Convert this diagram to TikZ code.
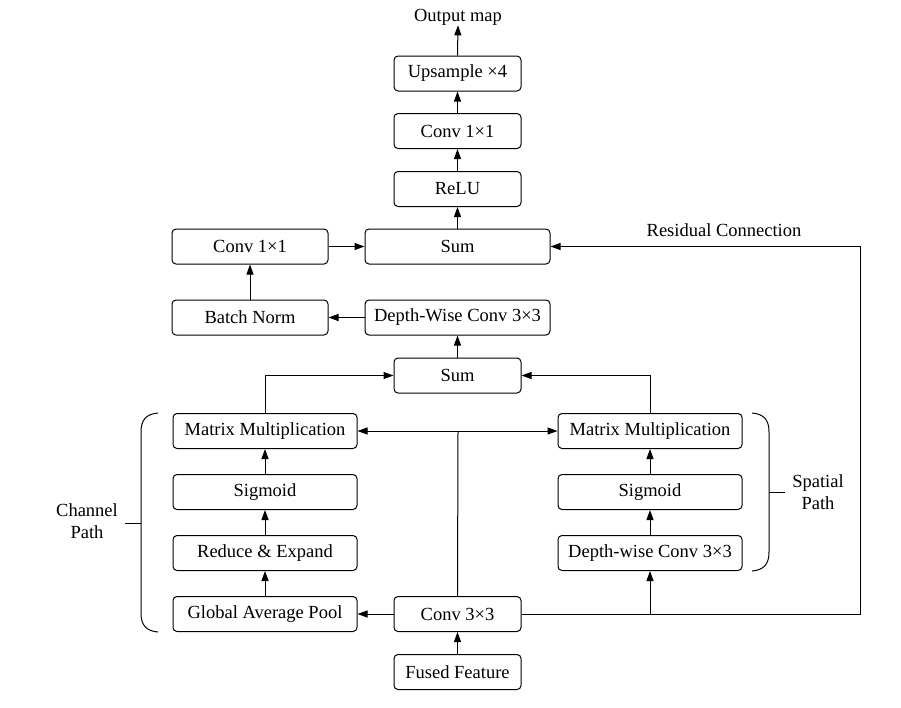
\documentclass[tikz,border=0pt]{standalone}
\usepackage{fontspec}
\setmainfont{Liberation Serif}
\usetikzlibrary{arrows.meta}
\begin{document}
\begin{tikzpicture}[x=1pt,y=-1pt,
  box/.style={draw,rounded corners=4pt,line width=1pt,minimum height=35pt,inner sep=0pt,font=\fontsize{18.5}{22}\selectfont},
  lbl/.style={inner sep=0pt,font=\fontsize{18.5}{22}\selectfont,align=center},
  conn/.style={line width=1pt,-{Triangle[length=10pt,width=7pt]}},
  ln/.style={line width=1pt}]
\useasboundingbox (0,0) rectangle (901,707);
\node[lbl] (out) at (458,17) {Output map};
\node[box,minimum width=127pt] (up) at (457.5,73.5) {Upsample ×4};
\node[box,minimum width=127pt] (c11t) at (457.5,131) {Conv 1×1};
\node[box,minimum width=127pt] (relu) at (457.5,189) {ReLU};
\node[box,minimum width=156pt] (c11l) at (250,246.5) {Conv 1×1};
\node[box,minimum width=185pt] (sumt) at (457.5,246.5) {Sum};
\node[box,minimum width=156pt] (bn) at (250,317.5) {Batch Norm};
\node[box,minimum width=185pt] (dwt) at (457.5,317.5) {Depth-Wise Conv 3×3};
\node[box,minimum width=127pt] (summ) at (457.5,375.5) {Sum};
\node[box,minimum width=184pt] (mml) at (265,431) {Matrix Multiplication};
\node[box,minimum width=184pt] (sigl) at (265,492) {Sigmoid};
\node[box,minimum width=184pt] (re) at (265,553) {Reduce \& Expand};
\node[box,minimum width=184pt] (gap) at (265,614) {Global Average Pool};
\node[box,minimum width=184pt] (mmr) at (650,431) {Matrix Multiplication};
\node[box,minimum width=184pt] (sigr) at (650,492) {Sigmoid};
\node[box,minimum width=184pt] (dwr) at (650,553) {Depth-wise Conv 3×3};
\node[box,minimum width=127pt] (c33) at (457.5,614) {Conv 3×3};
\node[box,minimum width=127pt] (fused) at (457.5,672) {Fused Feature};
\node[lbl] (res) at (724,230) {Residual Connection};
\node[lbl] (chan) at (87,521) {Channel\\Path};
\node[lbl] (spat) at (818,492) {Spatial\\Path};
\coordinate (j) at (458,431);
\coordinate (rc) at (860,614);
\coordinate (sp) at (650,614);
% vertical chain
\draw[conn] (up.north) -- (out.south);
\draw[conn] (c11t) -- (up);
\draw[conn] (relu) -- (c11t);
\draw[conn] (sumt) -- (relu);
\draw[conn] (c11l) -- (sumt);
\draw[conn] (bn) -- (c11l);
\draw[conn] (dwt) -- (bn);
\draw[conn] (summ) -- (dwt);
\draw[conn] (mml.north) |- (summ.west);
\draw[conn] (mmr.north) |- (summ.east);
\draw[conn] (sigl) -- (mml);
\draw[conn] (re) -- (sigl);
\draw[conn] (gap) -- (re);
\draw[conn] (sigr) -- (mmr);
\draw[conn] (dwr) -- (sigr);
\draw[conn] (fused) -- (c33);
\draw[conn] (c33) -- (gap);
\draw[ln] (c33.north) -- (j);
\draw[conn] (j) -- (mml.east);
\draw[conn] (j) -- (mmr.west);
\draw[conn] (sp) -- (dwr.south);
\draw[conn] (c33.east) -- (rc) |- (sumt.east);
% braces
\draw[ln] (158,413) .. controls (146,414) and (141,420) .. (141,432) -- (141,613) .. controls (141,625) and (146,631) .. (158,632);
\draw[ln] (141,523) -- (125,523);
\draw[ln] (752,413) .. controls (764,414) and (769,420) .. (769,432) -- (769,552) .. controls (769,564) and (764,570) .. (752,571);
\draw[ln] (769,492) -- (785,492);
\end{tikzpicture}
\end{document}
